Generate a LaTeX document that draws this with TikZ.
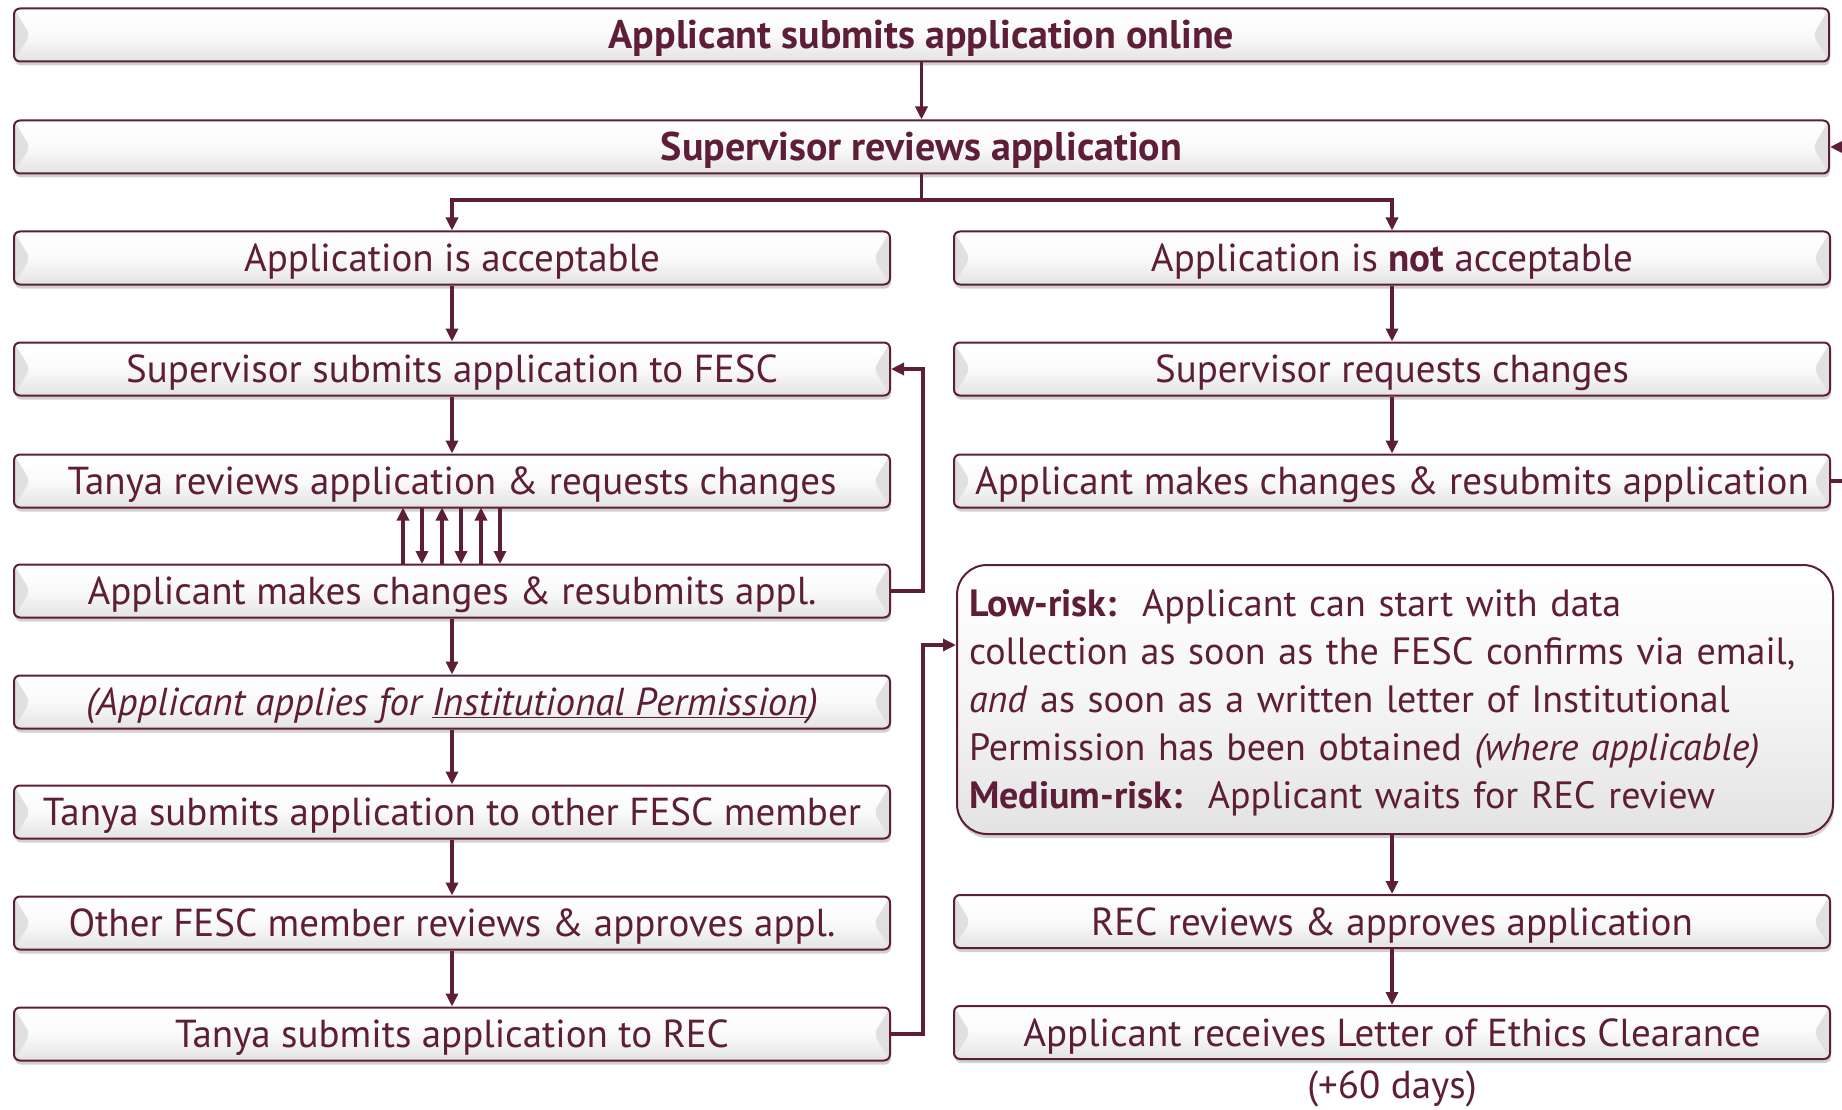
\documentclass[tikz,border=0pt]{standalone}
\usepackage{fontspec}
\setmainfont{PT Sans}
\usetikzlibrary{arrows.meta,shadows}
\definecolor{mar}{RGB}{94,30,56}
\tikzset{
  flowbox/.style={draw=mar, line width=2pt, rounded corners=6pt,
    minimum height=53pt, inner sep=0pt, text=mar,
    text height=33pt, text depth=6pt,
    top color=white, bottom color=black!11, middle color=black!2,
    drop shadow={shadow xshift=1pt, shadow yshift=-4pt, fill=black!40, opacity=0.45},
    font=\fontsize{39}{42}\selectfont,
    path picture={
      \fill[black!12] (path picture bounding box.north west) -- ([xshift=16pt]path picture bounding box.west) -- (path picture bounding box.south west) -- cycle;
      \fill[black!12] (path picture bounding box.north east) -- ([xshift=-16pt]path picture bounding box.east) -- (path picture bounding box.south east) -- cycle;
    }},
  colbox/.style={flowbox, minimum width=876pt},
  widebox/.style={flowbox, minimum width=1815pt},
  arr/.style={draw=mar, line width=3.4pt, -{Triangle[length=13pt,width=12pt]}},
  ln/.style={draw=mar, line width=3.4pt}
}
\begin{document}
\begin{tikzpicture}[x=1pt,y=-1pt]
\clip (0,0) rectangle (1842,1110);
\fill[white] (0,0) rectangle (1842,1110);
% top
\node[widebox] (n1) at (921.5,35) {\fontsize{40}{42}\selectfont\bfseries Applicant submits application online};
\node[widebox] (n2) at (921.5,147) {\fontsize{40}{42}\selectfont\bfseries Supervisor reviews application};
% left column
\node[colbox] (a3) at (452,258) {Application is acceptable};
\node[colbox] (a4) at (452,369) {Supervisor submits application to FESC};
\node[colbox] (a5) at (452,481) {Tanya reviews application \& requests changes};
\node[colbox] (a6) at (452,591) {Applicant makes changes \& resubmits appl.};
\node[colbox] (a7) at (452,702) {\itshape (Applicant applies for \underline{Institutional Permission})};
\node[colbox] (a8) at (452,812) {Tanya submits application to other FESC member};
\node[colbox] (a9) at (452,923) {Other FESC member reviews \& approves appl.};
\node[colbox] (a10) at (452,1034) {Tanya submits application to REC};
% right column
\node[colbox] (b3) at (1392,258) {Application is \textbf{not} acceptable};
\node[colbox] (b4) at (1392,369) {Supervisor requests changes};
\node[colbox] (b5) at (1392,481) {Applicant makes changes \& resubmits application};
\node[draw=mar, line width=2pt, rounded corners=30pt, minimum width=876pt, minimum height=269pt,
  top color=white, bottom color=black!11, middle color=black!4, text=mar,
  drop shadow={shadow xshift=1pt, shadow yshift=-4pt, fill=black!40, opacity=0.45},
  text width=852pt, align=left, inner sep=0pt, font=\fontsize{38}{48}\selectfont] (big) at (1395,699.5)
  {\rule{0pt}{33pt}\textbf{Low-risk:}\ \ Applicant can start with data\\
   collection as soon as the FESC confirms via email,\\
   \textit{and} as soon as a written letter of Institutional\\
   Permission has been obtained \textit{(where applicable)}\\
   \textbf{Medium-risk:}\ \ Applicant waits for REC review};
\node[colbox] (b7) at (1392,921.5) {REC reviews \& approves application};
\node[colbox] (b8) at (1392,1032.5) {Applicant receives Letter of Ethics Clearance};
\node[text=mar, font=\fontsize{39}{42}\selectfont, inner sep=0pt, text height=33pt, text depth=6pt] (days) at (1392,1085) {(+60 days)};
% connectors
\draw[arr] (n1.south) -- (n2.north);
\coordinate (split) at (921.5,200);
\draw[ln] (n2.south) -- (split);
\draw[arr] (split) -| (a3.north);
\draw[arr] (split) -| (b3.north);
\draw[arr] (a3) -- (a4);
\draw[arr] (a4) -- (a5);
\foreach \x in {403,442,481} { \draw[arr] (\x,564) -- (\x,507.5); }
\foreach \x in {422,461,500} { \draw[arr] (\x,507.5) -- (\x,564); }
\coordinate (k1) at (923,369);
\draw[arr] (a6.east) -| (k1) -- (a4.east);
\draw[arr] (a6) -- (a7);
\draw[arr] (a7) -- (a8);
\draw[arr] (a8) -- (a9);
\draw[arr] (a9) -- (a10);
\coordinate (k2) at (923,645);
\draw[arr] (a10.east) -| (k2) -- (big.west |- k2);
\draw[arr] (b3) -- (b4);
\draw[arr] (b4) -- (b5);
\coordinate (k3) at (1846,147);
\draw[arr] (b5.east) -| (k3) -- (n2.east);
\draw[arr] (b7.north |- big.south) -- (b7.north);
\draw[arr] (b7) -- (b8);
\end{tikzpicture}
\end{document}
